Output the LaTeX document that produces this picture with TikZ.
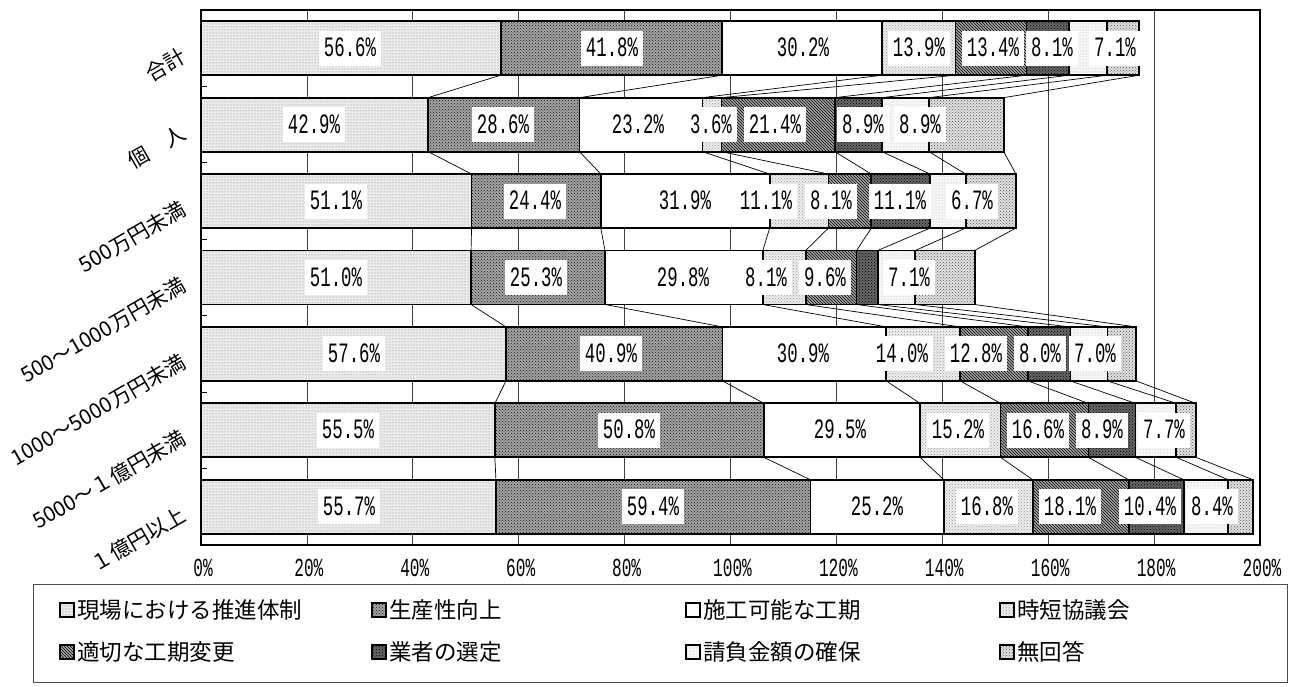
\documentclass[tikz,border=0pt]{standalone}
\usepackage{fontspec}
\usetikzlibrary{patterns}
\newfontfamily\cjkf{Noto Sans CJK JP}
\newfontfamily\numf[FakeStretch=0.62]{Liberation Mono}
\tikzset{
  s1/.style={preaction={fill=black!8}, pattern=dots, pattern color=black!50},
  s2/.style={preaction={fill=black!36}, pattern=crosshatch dots, pattern color=black!90},
  s3/.style={fill=white},
  s4/.style={preaction={fill=black!7}, pattern=crosshatch dots, pattern color=black!40},
  s5/.style={preaction={fill=black!35}, pattern=north west lines, pattern color=black},
  s6/.style={preaction={fill=black!60}, pattern=crosshatch dots, pattern color=black},
  s7/.style={preaction={fill=black!3}, pattern=dots, pattern color=black!30},
  s8/.style={preaction={fill=black!12}, pattern=crosshatch dots, pattern color=black!65},
  seg/.style={draw=black, line width=1.8pt},
  gridl/.style={draw=black!75, line width=0.8pt},
  sline/.style={draw=black, line width=0.7pt},
  frm/.style={draw=black, line width=2pt},
  tick/.style={draw=black, line width=1.2pt},
  val/.style={fill=white, inner xsep=5pt, inner ysep=9pt, text height=17pt, text depth=0pt, font=\numf\fontsize{28}{28}\selectfont},
  axl/.style={inner sep=0pt, font=\numf\fontsize{26}{26}\selectfont},
  catl/.style={anchor=east, rotate=30, inner sep=0pt, font=\cjkf\fontsize{21}{21}\selectfont},
  legt/.style={anchor=west, inner sep=0pt, font=\cjkf\fontsize{22.5}{22.5}\selectfont},
  key/.style={draw=black, line width=1.5pt},
  legbox/.style={draw=black!70, line width=1pt},
}
\begin{document}
\begin{tikzpicture}[x=1pt,y=-1pt]
\useasboundingbox[fill=white] (0,0) rectangle (1302,687);
% gridlines
\foreach \k in {1,...,9} \draw[gridl] ({201+105.9*\k},10) -- ({201+105.9*\k},545);
% segment boundary coordinates
\foreach \r/\vals in {
  1/{56.6,41.8,30.2,13.9,13.4,8.1,7.1,6.1},
  2/{42.9,28.6,23.2,3.6,21.4,8.9,8.9,14.1},
  3/{51.1,24.4,31.9,11.1,8.1,11.1,6.7,9.5},
  4/{51.0,25.3,29.8,8.1,9.6,4.0,7.1,11.2},
  5/{57.6,40.9,30.9,14.0,12.8,8.0,7.0,5.4},
  6/{55.5,50.8,29.5,15.2,16.6,8.9,7.7,3.7},
  7/{55.7,59.4,25.2,16.8,18.1,10.4,8.4,4.7}} {
  \pgfmathsetmacro\yt{10+76.43*(\r-0.5)-27}
  \pgfmathsetmacro\yb{\yt+54}
  \coordinate (t\r-0) at (201,\yt);
  \coordinate (b\r-0) at (201,\yb);
  \xdef\cum{0}
  \foreach \v [count=\i] in \vals {
    \pgfmathsetmacro\nc{\cum+\v}
    \xdef\cum{\nc}
    \coordinate (t\r-\i) at ({201+5.295*\nc},\yt);
    \coordinate (b\r-\i) at ({201+5.295*\nc},\yb);
  }
}
% series lines
\foreach \r [remember=\r as \q (initially 1)] in {2,...,7} {
  \foreach \i in {1,...,8} {
    \draw[sline] (b\q-\i) -- (t\r-\i);
  }
}
% bars
\foreach \r in {1,...,7} {
  \foreach \i [remember=\i as \j (initially 0)] in {1,...,8} {
    \draw[seg, s\i] (t\r-\j) rectangle (b\r-\i);
  }
}
% value labels
\foreach \r/\labs in {
  1/{350/56.6,612/41.8,803/30.2,919/13.9,993/13.4,1052/8.1,1115/7.1},
  2/{314/42.9,503/28.6,638/23.2,711/3.6,775/21.4,863/8.9,920/8.9},
  3/{336/51.1,535/24.4,685/31.9,766/11.1,831/8.1,900/11.1,972/6.7},
  4/{336/51.0,536/25.3,683/29.8,766/8.1,825/9.6,909/7.1},
  5/{354/57.6,611/40.9,803/30.9,902/14.0,976/12.8,1040/8.0,1095/7.0},
  6/{348/55.5,629/50.8,840/29.5,958/15.2,1038/16.6,1102/8.9,1164/7.7},
  7/{349/55.7,653/59.4,877/25.2,987/16.8,1070/18.1,1150/10.4,1212/8.4}} {
  \pgfmathsetmacro\yc{10+76.43*(\r-0.5)}
  \foreach \lx/\lt [count=\k] in \labs {
    \node[val] (v\r-\k) at (\lx,\yc) {\lt\%};
  }
}
% category ticks and frame
\foreach \k in {1,...,6} {\draw[tick] (201,{10+76.43*\k}) -- ++(6,0);}
\draw[frm] (201,10) rectangle (1260,545);
% category labels
\foreach \r/\nm in {1/合計,2/個　人,3/500万円未満,4/500～1000万円未満,5/1000～5000万円未満,6/5000～１億円未満,7/１億円以上} {
  \pgfmathsetmacro\yc{10+76.43*(\r-0.5)+6}
  \node[catl] (c\r) at (184,\yc) {\nm};
}
% axis labels
\foreach \k [evaluate=\k as \p using int(20*\k)] in {0,...,10} {
  \node[axl] (a\k) at ({201+105.9*\k+2},568) {\p\%};
}
% legend
\draw[legbox] (33,584) rectangle (1287,682);
\foreach \i/\lx/\ly/\t in {1/60/610/現場における推進体制, 2/372/610/生産性向上, 3/686/610/施工可能な工期, 4/1000/610/時短協議会, 5/60/652/適切な工期変更, 6/372/652/業者の選定, 7/686/652/請負金額の確保, 8/1000/652/無回答} {
  \draw[key, s\i] (\lx,{\ly-7}) rectangle ({\lx+14},{\ly+7});
  \node[legt] (leg\i) at ({\lx+17},\ly) {\t};
}
\end{tikzpicture}
\end{document}
